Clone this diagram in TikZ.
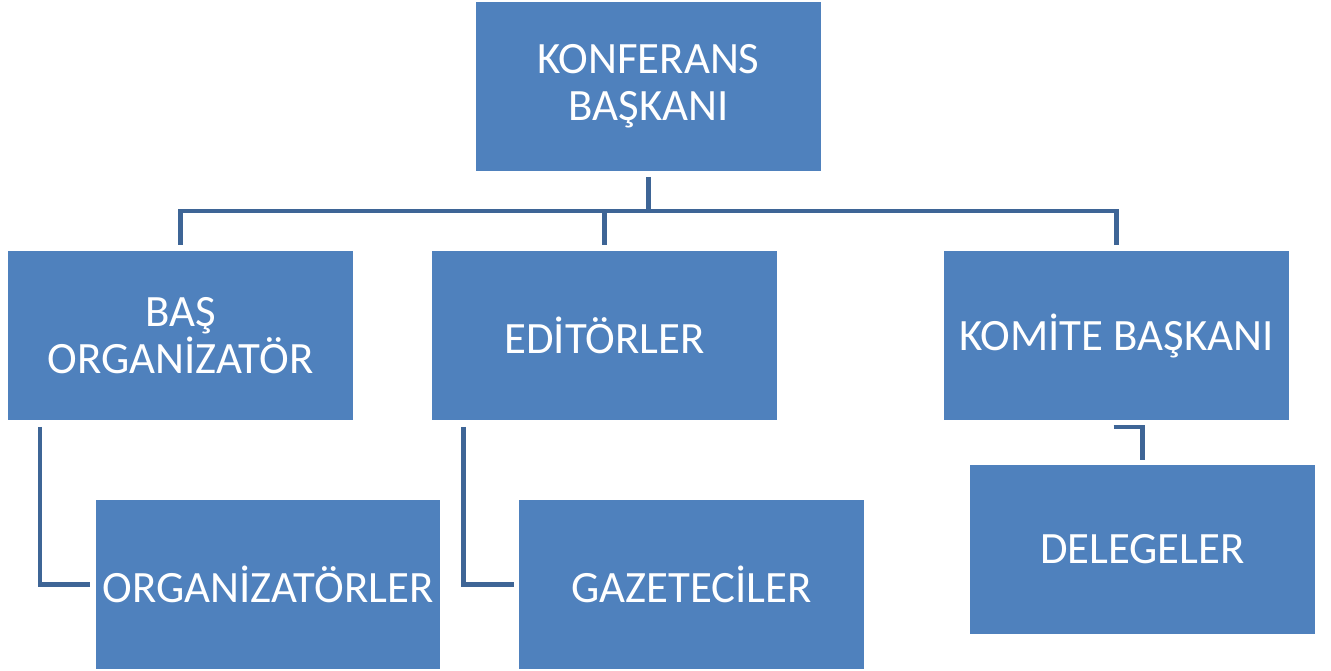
\documentclass[tikz,border=0pt]{standalone}
\usepackage{fontspec}
\setmainfont{Carlito}
\usetikzlibrary{calc}
\definecolor{kutu}{RGB}{79,129,189}
\definecolor{cizgi}{RGB}{62,101,150}
\begin{document}
\begin{tikzpicture}[x=0.02cm,y=-0.02cm,
    birim/.style={fill=kutu,text=white,minimum width=6.9cm,minimum height=3.38cm,
      inner sep=0pt,outer sep=0pt,align=center,
      font=\fontsize{25.5}{27}\selectfont},
    baglanti/.style={draw=cizgi,line width=2.8pt}]
    \useasboundingbox (0,0) rectangle (1331,671);
    % Kutular
    \node[birim] (konf) at (648.5,86.5) {KONFERANS\\BAŞKANI};
    \node[birim] (bas) at (180.5,335.5) {BAŞ\\ORGANİZATÖR};
    \node[birim] (edi) at (604.5,335.5) {EDİTÖRLER};
    \node[birim] (kom) at (1116.5,335.5) {KOMİTE BAŞKANI};
    \node[birim] (org) at (268,584.5) {ORGANİZATÖRLER};
    \node[birim] (gaz) at (691.5,584.5) {GAZETECİLER};
    \node[birim] (del) at (1142.5,549.5) {DELEGELER};
    % Üst bağlantılar
    \draw[baglanti,shorten <=0.12cm,shorten >=0.12cm] (konf.south) -- ++(0,40) -| (bas.north);
    \draw[baglanti,shorten >=0.12cm] ($(konf.south)+(0,40)$) -| (edi.north);
    \draw[baglanti,shorten >=0.12cm] ($(konf.south)+(0,40)$) -| (kom.north);
    % Alt bağlantılar
    \draw[baglanti,shorten >=0.12cm] ($(bas.south west)+(32,7)$) |- (org.west);
    \draw[baglanti,shorten >=0.1cm] ($(edi.south west)+(31,7)$) |- (gaz.west);
    \draw[baglanti,shorten >=0.1cm] ($(kom.south)+(-3,7)$) -| (del.north);
\end{tikzpicture}
\end{document}
